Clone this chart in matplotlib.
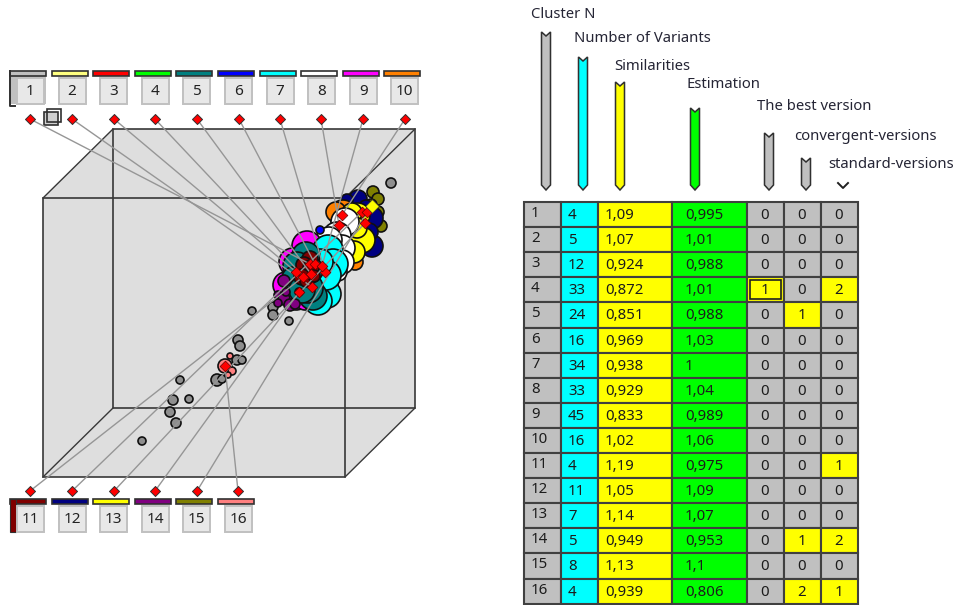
# cluster view: cube with projected clusters on the left, score table on the right
import matplotlib
matplotlib.use('Agg')
import matplotlib.pyplot as plt
from matplotlib.patches import Circle, Rectangle, Polygon

plt.rcParams['font.family'] = ['Noto Sans', 'DejaVu Sans']

# Table data
cluster_n = [str(i) for i in range(1, 17)]
n_variants = ['4', '5', '12', '33', '24', '16', '34', '33', '45', '16', '4', '11', '7', '5', '8', '4']
similarities = ['1,09', '1,07', '0,924', '0,872', '0,851', '0,969', '0,938', '0,929',
                '0,833', '1,02', '1,19', '1,05', '1,14', '0,949', '1,13', '0,939']
estimation = ['0,995', '1,01', '0,988', '1,01', '0,988', '1,03', '1', '1,04',
              '0,989', '1,06', '0,975', '1,09', '1,07', '0,953', '1,1', '0,806']
best_version = [0, 0, 0, 1, 0, 0, 0, 0, 0, 0, 0, 0, 0, 0, 0, 0]
convergent = [0, 0, 0, 0, 1, 0, 0, 0, 0, 0, 0, 0, 0, 1, 0, 2]
standard = [0, 0, 0, 2, 0, 0, 0, 0, 0, 0, 1, 0, 0, 2, 0, 1]

header_labels = ['Cluster N', 'Number of Variants', 'Similarities', 'Estimation',
                 'The best version', 'convergent-versions', 'standard-versions']
header_x = [531, 574, 614, 686, 757, 794, 828]
header_y = [15, 39, 66, 85, 107, 136, 164]

# Cluster colours, 1..16
cluster_colors = ['#c0c0c0', '#ffff80', '#ff0000', '#00ff00', '#008080', '#0000ff', '#00ffff', '#ffffff',
                  '#ff00ff', '#ff8000', '#800000', '#000080', '#ffff00', '#800080', '#808000', '#ff8080']
grey_blob = '#8e8e8e'

# Projected objects per cluster: (x, y, radius) in pixels
blobs_15 = [(373, 192, 6), (378, 199, 6), (371, 205, 6), (381, 226, 6), (378, 212, 6), (376, 218, 6)]
blobs_12 = [(358, 199, 9), (347, 200, 6), (372, 218, 11), (372, 246, 11), (369, 232, 9), (366, 207, 7)]
blobs_10 = [(343, 214, 14), (336, 212, 10), (355, 262, 8)]
blobs_13 = [(358, 215, 12), (352, 213, 10), (362, 240, 13), (354, 252, 11), (357, 228, 10)]
blobs_8 = [(345, 222, 14), (337, 236, 14), (342, 248, 13), (329, 240, 13), (342, 262, 12), (338, 272, 9)]
blobs_6 = [(320, 230, 4)]
blobs_9 = [(307, 246, 15), (293, 262, 14), (286, 285, 13), (296, 296, 14), (305, 300, 10)]
blobs_7 = [(328, 250, 15), (333, 264, 15), (322, 285, 16), (327, 294, 14), (318, 301, 14), (326, 275, 15),
           (320, 262, 13)]
blobs_5 = [(306, 256, 14), (297, 266, 14), (293, 278, 11), (313, 296, 14), (308, 288, 15), (302, 290, 13),
           (310, 270, 13)]
blobs_11 = [(310, 259, 8), (304, 265, 8), (311, 268, 8), (302, 277, 8), (306, 281, 6), (314, 276, 6), (299, 292, 4)]
blobs_14 = [(284, 281, 6), (278, 295, 4), (284, 299, 6), (290, 305, 6), (295, 304, 5), (278, 303, 4), (286, 292, 4)]
blobs_1 = [(391, 183, 5), (252, 311, 4), (273, 307, 5), (273, 315, 5), (289, 321, 4), (238, 340, 5),
           (240, 346, 5), (237, 360, 5), (242, 360, 4), (217, 380, 6), (222, 379, 4), (180, 380, 4),
           (173, 400, 5), (189, 399, 4), (170, 412, 5), (176, 423, 5), (142, 441, 4)]
blobs_16 = [(230, 356, 3), (225, 366, 7), (232, 371, 4), (228, 375, 3)]
blob_groups = [(1, blobs_1), (15, blobs_15), (12, blobs_12), (10, blobs_10), (13, blobs_13), (8, blobs_8),
               (6, blobs_6), (9, blobs_9), (7, blobs_7), (5, blobs_5), (11, blobs_11), (14, blobs_14),
               (16, blobs_16)]

# Cluster centres (red diamonds) and their anchors
center_x = [310, 312, 296, 304, 311, 315, 325, 339, 322, 342, 303, 362, 365, 299, 367, 225]
center_y = [264, 287, 272, 277, 274, 264, 272, 225, 266, 215, 277, 212, 223, 292, 212, 366]
anchor_x = [30, 72, 114, 155, 197, 239, 280, 321, 363, 405, 30, 72, 114, 155, 197, 238]
anchor_y = [119] * 10 + [491] * 6

DARK = '#404040'

fig = plt.figure(figsize=(9.6, 6.05), dpi=100)
ax = fig.add_axes([0, 0, 1, 1])
ax.set_xlim(0, 960)
ax.set_ylim(605, 0)
ax.axis('off')

# Cube
ax.add_patch(Polygon([(113, 129), (415, 129), (415, 408), (345, 477), (43, 477), (43, 198)],
                     fc='#dedede', ec='none', zorder=1))
ax.add_patch(Rectangle((113, 129), 302, 279, fc='none', ec='#383838', lw=1.2, zorder=2))
ax.add_patch(Rectangle((43, 198), 302, 279, fc='none', ec='#383838', lw=1.2, zorder=2))
for bx, by, fx, fy in [(113, 129, 43, 198), (415, 129, 345, 198), (113, 408, 43, 477), (415, 408, 345, 477)]:
    ax.plot([bx, fx], [by, fy], color='#383838', lw=1.0, zorder=2)

# Clusters
z = 3
for idx, blobs in blob_groups:
    fill = grey_blob if idx == 1 else cluster_colors[idx - 1]
    for x, y, r in blobs:
        ax.add_patch(Circle((x, y), r, fc=fill, ec='#101010', lw=1.2, zorder=z))
        z += 0.01

# Lines from anchors to centres, then the diamonds
for i in range(16):
    ax.plot([anchor_x[i], center_x[i]], [anchor_y[i], center_y[i]], color='#969696', lw=1.0, zorder=8)
ax.scatter(anchor_x, anchor_y, marker='D', s=26, c='#ff0000', edgecolors='#303030', linewidths=0.7, zorder=9)
ax.scatter(center_x, center_y, marker='D', s=30, c='#ff0000', edgecolors='#600000', linewidths=0.5, zorder=9)
ax.scatter([372], [206], marker='D', s=48, c='#ffff00', edgecolors='#303030', linewidths=0.5, zorder=9)

# Buttons with colour strips
for i in range(16):
    row_top = i < 10
    bx = 10 + 41.6 * (i if row_top else i - 10)
    strip_y = 71 if row_top else 499
    btn_y = 78 if row_top else 506
    ax.add_patch(Rectangle((bx, strip_y), 36, 5, fc=cluster_colors[i], ec='#303030', lw=1.2, zorder=3))
    if i == 0:
        ax.plot([bx, bx, bx + 5], [strip_y, 106, 106], color='#303030', lw=1.4, zorder=3)
        ax.add_patch(Rectangle((bx, strip_y), 36, 33, fc=cluster_colors[0], ec='none', zorder=2))
    if i == 10:
        ax.add_patch(Rectangle((bx, strip_y), 6, 33, fc=cluster_colors[10], ec='#303030', lw=0.8, zorder=3))
    ax.add_patch(Rectangle((bx + 7, btn_y), 27, 26, fc='#e8e8e8', ec='#c0c0c0', lw=1.4, zorder=4))
    ax.text(bx + 20.5, btn_y + 13.5, cluster_n[i], ha='center', va='center', fontsize=11, color='#222222', zorder=5)

# Small cube icon
ax.add_patch(Rectangle((44, 112), 14, 13, fc='#d0d0d0', ec='#303030', lw=1.2, zorder=5))
ax.add_patch(Rectangle((47, 109), 14, 13, fc='none', ec='#303030', lw=1.2, zorder=5))

# Header labels
for label, x, y in zip(header_labels, header_x, header_y):
    ax.text(x, y, label, ha='left', va='center', fontsize=10.7, color='#252535')

# Column markers
marker_x = [546, 583, 620, 695, 769, 806]
marker_top = [32, 57, 82, 108, 133, 158]
marker_colors = ['#c0c0c0', '#00ffff', '#ffff00', '#00ff00', '#c0c0c0', '#c0c0c0']
for x, top, color in zip(marker_x, marker_top, marker_colors):
    pts = [(x - 4.5, top), (x, top + 4), (x + 4.5, top), (x + 4.5, 185), (x, 190), (x - 4.5, 185)]
    ax.add_patch(Polygon(pts, fc=color, ec='#303030', lw=1.1))
ax.plot([838, 843, 848], [183, 188, 183], color='#202020', lw=1.4)

# Table
col_edges = [524, 561, 598, 672, 747, 784, 821, 858]
col_colors = ['#c0c0c0', '#00ffff', '#ffff00', '#00ff00', '#c0c0c0', '#c0c0c0', '#c0c0c0']
row_top = 202
row_h = 25.1
columns = [cluster_n, n_variants, similarities, estimation, best_version, convergent, standard]
text_x = [531, 568, 605, 685, 765, 802, 839]
for c, values in enumerate(columns):
    for r, value in enumerate(values):
        y = row_top + r * row_h
        color = col_colors[c]
        if c >= 4 and value > 0:
            color = '#ffff00'
        ax.add_patch(Rectangle((col_edges[c], y), col_edges[c + 1] - col_edges[c], row_h,
                               fc=color, ec=DARK, lw=1.5))
        ha = 'center' if c >= 4 else 'left'
        dy = -1 if c == 0 else 1
        ax.text(text_x[c], y + row_h / 2 + dy, str(value), ha=ha, va='center', fontsize=10.8, color='#1c1c1c')

# Focus box on the selected cell (best version, row 4)
ax.add_patch(Rectangle((750, 202 + 3 * row_h + 3), 31, row_h - 6, fc='none', ec='#202020', lw=1.2))

fig.savefig('out.png', dpi=100)
